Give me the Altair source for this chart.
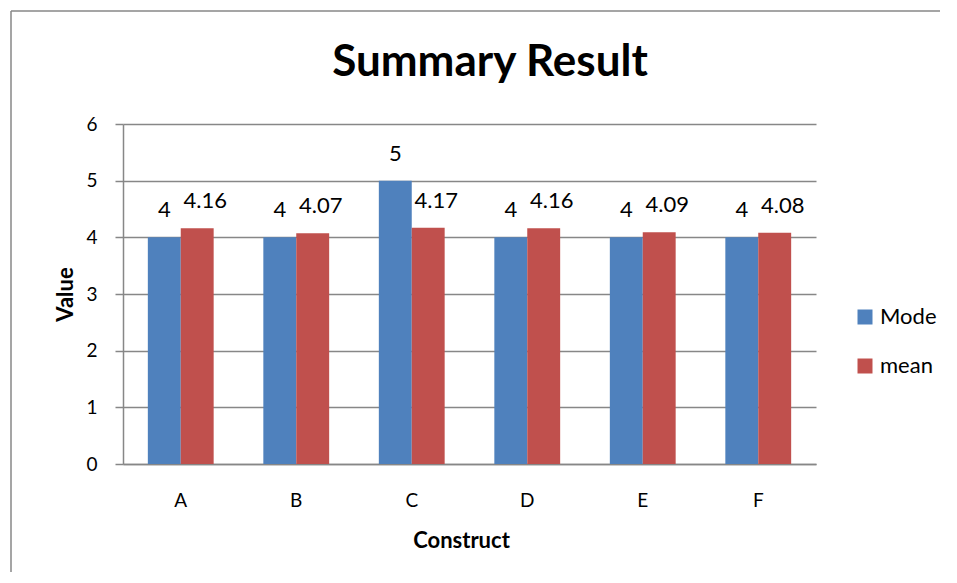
import altair as alt
import pandas as pd

constructs = ["A", "B", "C", "D", "E", "F"]
mode_values = [4, 4, 5, 4, 4, 4]
mean_values = [4.16, 4.07, 4.17, 4.16, 4.09, 4.08]
series_names = ["Mode", "mean"]
series_colors = ["#4F81BD", "#C0504D"]
y_ticks = [0, 1, 2, 3, 4, 5, 6]
chart_title = "Summary Result"

rows = []
for c, m, mn in zip(constructs, mode_values, mean_values):
    rows.append({"Construct": c, "Series": "Mode", "Value": m, "Label": f"{m:g}"})
    rows.append({"Construct": c, "Series": "mean", "Value": mn, "Label": f"{mn:.2f}"})
df = pd.DataFrame(rows)

FONT = "Lato"
GRAY = "#878787"

x_enc = alt.X(
    "Construct:N",
    sort=constructs,
    scale=alt.Scale(paddingInner=0.43, paddingOuter=0.215),
    axis=alt.Axis(
        title="Construct",
        labelAngle=0,
        ticks=False,
        tickSize=0,
        labelPadding=27,
        labelFontSize=19,
        labelFont=FONT,
        labelColor="black",
        titleFont=FONT,
        titleFontSize=22,
        titleFontWeight="bold",
        titleColor="black",
        titleX=338,
        titleY=83,
        titleBaseline="alphabetic",
        domainColor=GRAY,
        domainWidth=1.5,
        grid=False,
    ),
)
y_enc = alt.Y(
    "Value:Q",
    scale=alt.Scale(domain=[0, 6]),
    axis=alt.Axis(
        values=y_ticks,
        title="Value",
        tickSize=8,
        tickColor=GRAY,
        tickWidth=1.5,
        labelPadding=18,
        labelFontSize=19,
        labelFont=FONT,
        labelColor="black",
        titleFont=FONT,
        titleFontSize=22,
        titleFontWeight="bold",
        titleColor="black",
        titleX=-51,
        titleY=170,
        titleBaseline="alphabetic",
        titleAlign="center",
        grid=True,
        gridColor=GRAY,
        gridWidth=1.5,
        domainColor=GRAY,
        domainWidth=1.5,
    ),
)
xoff = alt.XOffset("Series:N", sort=series_names, scale=alt.Scale(paddingInner=0, paddingOuter=0))

base = alt.Chart(df).encode(x=x_enc, y=y_enc, xOffset=xoff)

bars = base.mark_bar().encode(
    color=alt.Color(
        "Series:N",
        sort=series_names,
        scale=alt.Scale(domain=series_names, range=series_colors),
        legend=alt.Legend(
            title=None,
            orient="none",
            legendX=731,
            legendY=182,
            symbolType="square",
            symbolSize=225,
            symbolStrokeWidth=0,
            labelFontSize=22,
            labelFont=FONT,
            labelColor="black",
            labelOffset=4,
            rowPadding=27,
            padding=0,
        ),
    )
)

mode_labels = base.transform_filter(alt.datum.Series == "Mode").mark_text(
    dy=-20, baseline="alphabetic", fontSize=22, font=FONT, color="black"
).encode(text="Label:N")

mean_labels = base.transform_filter(alt.datum.Series == "mean").mark_text(
    dy=-20, dx=8, baseline="alphabetic", fontSize=22, font=FONT, color="black"
).encode(text="Label:N")

one_row = pd.DataFrame({"title": [chart_title]})

border_top = alt.Chart(one_row).mark_rule(stroke=GRAY, strokeWidth=1.5).encode(
    x=alt.value(-112), x2=alt.value(900), y=alt.value(-113)
)
border_left = alt.Chart(one_row).mark_rule(stroke=GRAY, strokeWidth=1.5).encode(
    x=alt.value(-112), y=alt.value(-113), y2=alt.value(700)
)

title_mark = alt.Chart(one_row).mark_text(
    fontSize=44, font=FONT, fontWeight="bold", color="black",
    align="center", baseline="alphabetic"
).encode(
    text="title:N", x=alt.value(367), y=alt.value(-48)
)

chart = alt.layer(border_top, border_left, bars, mode_labels, mean_labels, title_mark).properties(
    width=693,
    height=340,
    padding={"left": 115, "top": 116, "right": 124, "bottom": 108},
    autosize=alt.AutoSizeParams(type="none"),
    background="white",
).configure_view(stroke=None)

chart.save("out.html", embed_options={"renderer": "svg", "actions": False})
